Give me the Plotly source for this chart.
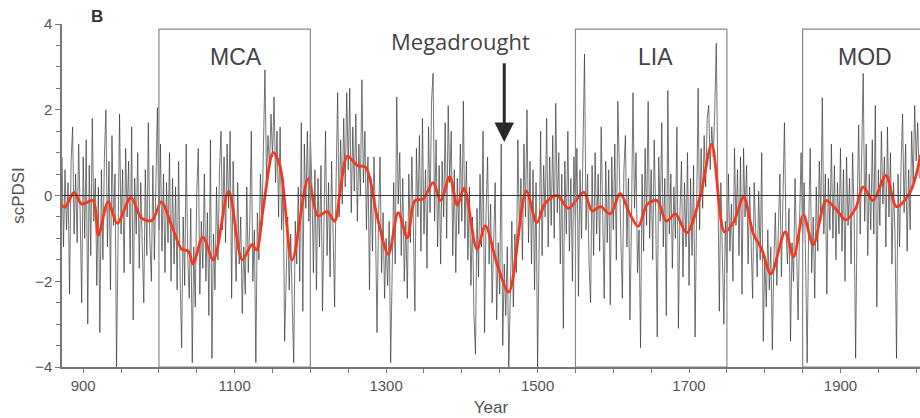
import plotly.graph_objects as go

# Annual-ish scPDSI values (every 2 years, starting 872)
start_year = 872
step = 2
pdsi_vals = [
    0.9, -1.2, 0.6, -0.8, 0.3,            # 872-880
    -2.3, 0.8, 1.6, -0.9, 0.5,            # 882-890
    -1.1, 1.2, -0.4, -2.5, 0.9,
    -1.0, 1.3, -3.0, 0.7, -1.4,
    1.8, -0.6, 0.4, -2.1, 0.2,
    -3.2, 0.6, -1.5, 0.9, 2.0,
    -1.2, 0.8, -2.2, 1.4, -0.7,
    0.5, -4.0, -1.3, 1.9, -0.9,
    0.6, -1.8, 1.1, -0.5, 0.8,
    -1.6, 1.6, -2.9, 0.4, -0.9,
    1.0, -1.7, 0.3, -1.2, -2.5,
    0.6, -1.4, 1.7, -1.0, -2.0,
    0.7, -1.5, 0.2, 2.05, -0.8,           # 992-1000
    1.2, -1.3, 0.5, -1.8, 0.3,
    -1.1, 1.0, -2.0, 0.4, -1.6,
    0.2, -2.2, 0.8, -1.9, -3.55,
    -0.5, -2.1, 1.2, -1.4, -2.4,
    -0.3, -3.9, -1.2, -2.6, 0.1,
    1.1, -2.3, -0.6, -1.7, 0.5,
    -2.0, -0.4, -2.8, 1.3, -3.8,
    -0.9, -2.2, 0.2, -1.5, 0.6,
    1.5, -0.8, 0.9, -1.1, 1.2,
    -0.3, 1.5, -2.4, 0.8, -0.9,           # 1092-1100
    -2.0, 0.3, -1.6, -0.5, -2.75,
    -1.2, -2.3, 0.2, -1.8, -0.6,
    1.5, -2.0, -0.8, -3.9, -0.4,
    -1.5, 0.5, -0.7, 1.2, 2.93,
    0.4, 1.4, 0.6, 1.9, 0.9,
    2.3, 0.3, 1.5, -0.5, 1.6,
    -0.8, 0.4, -3.4, -1.6, -0.5,
    -2.2, -0.9, -2.5, -3.9, -0.6,
    -1.6, 0.2, -2.0, 1.7, -2.7,
    1.2, -0.3, 1.5, -0.6, 1.4,            # 1192-1200
    0.2, -1.8, 0.6, -2.2, 0.4,
    -1.2, 0.7, -2.7, -0.3, 1.5,
    -1.4, 0.3, -1.9, 0.8, -0.9,
    -2.6, 0.4, 2.4, -0.5, 1.3,
    -0.2, 1.8, 0.2, 2.4, 0.6,
    2.5, -0.4, 1.6, 0.1, 1.9,
    -0.6, 1.2, 0.0, 2.7, 0.3,
    1.5, -0.8, 0.9, -2.2, 0.4,
    -1.3, 0.9, -0.7, -3.2, -0.5,
    0.9, -1.8, -0.4, -2.4, -1.0,          # 1292-1300
    -2.1, -0.6, -3.9, -1.2, 0.3,
    -1.6, 2.3, -0.2, 1.0, -1.4,
    0.4, -2.0, -0.6, -2.4, 0.5,
    -1.1, 0.9, -0.7, -2.7, 1.1,
    -0.5, 1.4, -1.3, 1.8, -0.9,
    0.6, -1.7, 1.6, -0.4, 2.2,
    2.85, -0.6, 1.3, -1.2, 0.7,
    -1.6, 0.8, -0.5, 1.7, -1.0,
    2.1, 0.3, 1.5, -1.4, 0.6,
    -1.8, 0.4, -0.9, 1.2, -0.6,           # 1392-1400
    2.2, -1.0, 0.8, -1.5, 0.2,
    -2.1, -0.5, -2.8, -3.7, -0.3,
    -1.9, 0.5, -1.2, 1.5, -3.2,
    -0.4, 0.9, -1.6, -0.2, -2.5,
    -0.8, 0.3, -2.9, -1.1, -2.3,
    1.2, -3.5, -1.6, -2.8, -1.2,
    -4.0, -2.0, -0.6, -2.6, -0.9,
    -1.8, 1.3, -0.9, 0.4, -1.5,
    1.2, -0.5, 2.0, -1.1, 0.8,
    -1.6, 0.6, -2.2, 0.3, -4.0,           # 1492-1500
    -0.9, 1.5, -1.4, 0.7, -0.5,
    1.8, -1.2, 0.9, -0.7, 1.4,
    -1.0, 2.15, -0.4, 1.0, -1.6,
    0.5, -3.1, 0.8, -0.9, 1.5,
    -1.3, 0.4, -2.0, 0.9, -0.7,
    1.1, -2.35, 0.6, -1.0, 1.3,
    3.3, -0.8, 0.5, -1.6, -2.5,
    0.7, -1.4, 1.0, -0.9, 0.5,
    -1.3, 1.6, -0.6, -2.4, 0.8,
    -1.1, 0.6, -2.55, 0.9, -0.8,          # 1592-1600
    1.2, -1.5, 2.2, 0.3, -1.0,
    -2.4, 0.6, 1.4, -1.2, 0.4,
    -2.9, -0.6, 2.4, -0.3, 1.0,
    -1.8, -0.8, -3.55, 0.5, -1.3,
    1.1, -0.7, 2.2, -1.0, 0.6,
    -1.5, 1.3, -0.4, -3.3, 0.9,
    -0.6, 1.7, -1.2, 0.4, -2.8,
    2.45, -0.9, 0.5, -1.7, 0.2,
    -1.0, 1.6, -3.1, -0.4, 0.8,
    -1.9, 0.3, -1.2, 1.0, -2.1,           # 1692-1700
    0.4, -1.4, 0.7, -3.3, -0.5,
    2.5, -0.8, 1.1, -0.3, 1.4,
    0.2, 1.8, 2.1, 0.6, 1.6,
    0.9, 2.0, 3.55, 0.4, -2.7,
    0.3, -1.5, -3.0, -0.6, -1.8,
    0.5, -1.3, -0.2, -2.0, 1.1,
    -0.7, 0.6, -1.4, 0.9, -2.3,
    1.1, -0.5, 0.7, -1.6, 0.2,
    -1.2, -2.4, 0.3, -1.0, -1.9,
    0.1, -1.5, 1.0, -3.4, -1.4,           # 1792-1800
    -2.6, -0.8, -2.2, -1.2, -3.6,
    -1.5, -0.4, -2.1, -0.9, 0.5,
    -1.9, 0.2, 1.7, -0.8, -1.6,
    -0.3, -3.4, -1.1, -2.0, 0.4,
    -1.3, -2.9, -0.6, 1.0, -1.1,
    0.3, -1.6, -3.9, -0.7, 1.1,
    -1.8, -0.5, -2.4, 0.2, -1.3,
    0.8, -0.6, 2.28, -0.9, 0.5,
    -2.3, 0.4, -0.8, 1.2, -1.0,
    0.7, -1.5, 0.3, -0.9, 1.1,            # 1892-1900
    -1.3, 0.6, -2.0, 0.9, -0.7,
    0.4, -1.6, 1.0, -0.5, -3.8,
    -0.3, 1.65, -0.9, 0.8, 2.85,
    -0.6, 1.2, -1.4, 0.5, -0.8,
    1.3, -0.9, 2.1, -2.6, 0.6,
    -0.7, 1.5, -0.2, 0.9, -1.2,
    1.6, -0.5, 1.0, -1.6, 0.3,
    -0.9, -3.8, 0.5, -1.2, 0.7,
    1.9, -0.4, 1.2, -1.3, 0.6,
    -0.8, 1.5, 0.3, 2.1, 0.8,             # 1992-2000
    1.7, 0.4,                             # 2002-2004
]
pdsi_years = [start_year + step * i for i in range(len(pdsi_vals))]

# Smoothed (low-pass) curve
smooth_years = [870, 876, 888, 898, 913, 920, 933, 945, 963, 977, 991, 1003, 1017,
                1030, 1039, 1045, 1058, 1072, 1092, 1110, 1123, 1129, 1138, 1151,
                1160, 1176, 1197, 1210, 1222, 1232, 1240, 1249, 1262, 1273, 1288,
                1303, 1316, 1328, 1338, 1349, 1362, 1372, 1384, 1394, 1403, 1420,
                1431, 1447, 1462, 1485, 1499, 1510, 1526, 1541, 1561, 1572, 1583,
                1596, 1609, 1621, 1633, 1645, 1658, 1670, 1682, 1697, 1715, 1730,
                1747, 1759, 1772, 1785, 1796, 1808, 1827, 1838, 1851, 1864, 1881,
                1893, 1907, 1920, 1930, 1943, 1960, 1974, 1992, 2006]
smooth_vals = [-0.2, -0.27, 0.07, -0.2, -0.12, -0.93, -0.15, -0.65, -0.05, -0.53,
               -0.58, -0.15, -0.71, -1.25, -1.3, -1.6, -0.97, -1.5, 0.1, -1.5,
               -1.14, -1.27, -0.26, 1.0, 0.68, -1.5, 0.39, -0.48, -0.37, -0.6,
               0.2, 0.92, 0.7, 0.66, -0.48, -1.37, -0.4, -0.99, -0.12, -0.08,
               0.3, -0.12, 0.44, -0.23, 0.17, -1.25, -0.71, -1.63, -2.25, 0.1,
               -0.63, -0.18, 0.0, -0.3, 0.08, -0.36, -0.26, -0.43, 0.05, -0.4,
               -0.72, -0.2, -0.12, -0.6, -0.43, -0.87, 0.0, 1.19, -0.85, -0.62,
               -0.04, -0.9, -1.25, -1.83, -0.85, -1.43, -0.45, -1.15, -0.12,
               -0.3, -0.57, -0.3, 0.2, -0.12, 0.47, -0.26, 0.08, 0.95]

periods = ["MCA", "LIA", "MOD"]
period_start = [1000, 1550, 1850]
period_end = [1200, 1750, 2020]
period_label_x = [1102, 1656, 1932]

x_ticks = [900, 1100, 1300, 1500, 1700, 1900]
y_ticks = [-4, -2, 0, 2, 4]

fig = go.Figure()
fig.add_trace(go.Scatter(x=pdsi_years, y=pdsi_vals, mode="lines",
                         line=dict(color="rgba(50,50,50,0.75)", width=0.9),
                         showlegend=False, hoverinfo="skip"))
fig.add_trace(go.Scatter(x=smooth_years, y=smooth_vals, mode="lines",
                         line=dict(color="#f43a1e", width=2.8, shape="spline", smoothing=0.9),
                         showlegend=False))

# zero line
fig.add_shape(type="line", xref="paper", x0=0, x1=1, yref="y", y0=0, y1=0,
              line=dict(color="#333333", width=1))

for name, s, e, lx in zip(periods, period_start, period_end, period_label_x):
    fig.add_shape(type="rect", xref="x", yref="y", x0=s, x1=e, y0=-4, y1=3.88,
                  line=dict(color="#8a8a8a", width=1.2), fillcolor="rgba(0,0,0,0)")
    fig.add_annotation(x=lx, y=3.22, xref="x", yref="y", text=name, showarrow=False,
                       font=dict(family="Liberation Sans, Arial", size=23, color="#444444"))

fig.add_annotation(x=1398, y=3.6, xref="x", yref="y", text="Megadrought", showarrow=False,
                   font=dict(family="Open Sans, Arial", size=22, color="#444444"))
fig.add_annotation(x=1456, y=1.25, ax=1456, ay=3.12, xref="x", yref="y", axref="x", ayref="y",
                   text="", showarrow=True, arrowhead=2, arrowsize=1.3, arrowwidth=3,
                   arrowcolor="#2a2a2a")

fig.add_annotation(x=0.041, y=1.023, xref="paper", yref="paper", text="<b>B</b>",
                   showarrow=False, xanchor="center", yanchor="middle",
                   font=dict(family="Liberation Sans, Arial", size=17, color="#333333"))

fig.update_layout(
    width=920, height=418,
    margin=dict(l=62, r=0, t=24, b=51),
    paper_bgcolor="white", plot_bgcolor="white",
    font=dict(family="Liberation Sans, Arial", size=15, color="#555555"),
    xaxis=dict(range=[872, 2005], tickvals=x_ticks, ticks="outside", ticklen=4,
               tickcolor="#777777", showgrid=False, zeroline=False, showline=True,
               linecolor="#777777", linewidth=1.5, automargin=False,
               minor=dict(dtick=50, tick0=900, ticks="outside", ticklen=4, tickcolor="#777777"),
               title=dict(text="Year", font=dict(size=17, color="#555555"), standoff=8)),
    yaxis=dict(range=[-4, 4], tickvals=y_ticks, ticks="outside", ticklen=5,
               tickcolor="#777777", showgrid=False, zeroline=False, showline=True,
               linecolor="#777777", linewidth=1.5, automargin=False,
               minor=dict(dtick=0.5, tick0=0, ticks="outside", ticklen=4, tickcolor="#777777"),
               title=dict(text="scPDSI", font=dict(size=17, color="#555555"), standoff=6)),
)

# remove the browser's default page margin so the figure fills the window exactly
fig.write_html("out.html", config={"displayModeBar": False},
               post_script="document.body.style.margin='0';document.body.style.overflow='hidden';")
